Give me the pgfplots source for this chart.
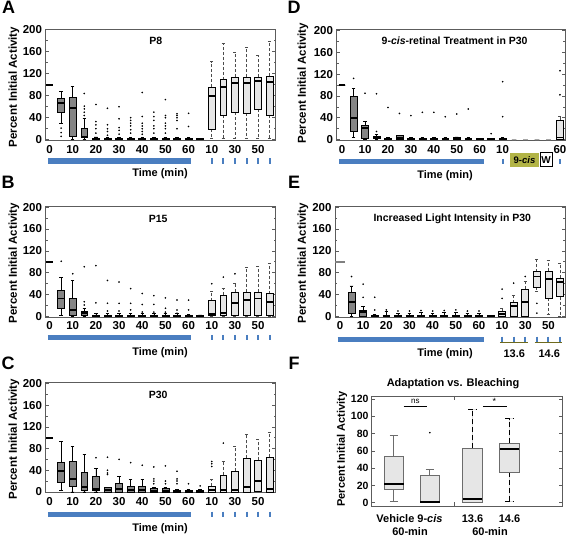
\documentclass[border=0pt]{standalone}
\usepackage{fontspec}
\setmainfont{Liberation Sans}
\usepackage{pgfplots}
\pgfplotsset{compat=1.18}
\usepgfplotslibrary{statistics}
\definecolor{dkfill}{HTML}{858585}
\definecolor{ltfill}{HTML}{E6E6E6}
\definecolor{bbar}{HTML}{4A7EC0}
\definecolor{olivec}{HTML}{B2B446}
\definecolor{olived}{HTML}{6E6A1E}
\definecolor{framec}{HTML}{5C5C5C}
\pgfplotsset{
  bp/.style args={#1/#2/#3/#4/#5/#6}{boxplot prepared={draw direction=y,draw position=#1,lower whisker=#2,lower quartile=#3,median=#4,upper quartile=#5,upper whisker=#6}},
  dk/.style={draw=black,fill=dkfill,line width=0.6pt,solid,boxplot/box extend=0.6,boxplot/whisker extend=0.3,
    boxplot/every median/.style={line width=1.8pt,black},boxplot/every whisker/.style={solid,black,line width=0.6pt}},
  lt/.style={draw=black,fill=ltfill,line width=0.7pt,solid,boxplot/box extend=0.6,boxplot/whisker extend=0.3,
    boxplot/every median/.style={line width=1.8pt,black},boxplot/every whisker/.style={dash pattern=on 3pt off 2pt,draw=gray!60!black,line width=0.8pt}},
  dd/.style={draw=black,fill=black,line width=0.6pt,boxplot/box extend=0.55,boxplot/every median/.style={line width=2pt,black}},
  gd/.style={draw=gray,fill=gray,line width=0.6pt,boxplot/box extend=0.85,boxplot/every median/.style={line width=1.6pt,gray}},
  gz/.style={draw=gray!70,fill=gray!70,line width=0.6pt,boxplot/box extend=0.4,boxplot/every median/.style={line width=1.4pt,gray!70}},
  out/.style={only marks,mark=*,mark size=0.6pt,black},
  fb/.style={draw=gray!85!black,fill=ltfill,line width=1pt,boxplot/box extend=0.53,boxplot/whisker extend=0.22,
    boxplot/every median/.style={line width=2.2pt,black}},
  panelbase/.style={
    scale only axis, clip=false,
    boxplot/draw direction=y,
    axis line style={draw=framec,line width=0.9pt},
    tick align=inside,
    tick style={draw=framec,line width=0.7pt},
    major tick length=3.5pt, minor tick length=2pt,
    xtick style={draw=none},
    /pgf/number format/assume math mode=true,
    yticklabel style={font=\fontsize{11.5}{12}\selectfont\bfseries},
    xticklabel style={font=\fontsize{11.5}{12}\selectfont\bfseries,yshift=-1pt},
  },
  tp/.style={panelbase,width=230pt,height=111pt,xmin=-0.35,xmax=19.5,ymin=-1.5,ymax=201.5,
    ytick={0,40,...,200},minor ytick={20,60,...,180},
    xtick={0,2,4,6,8,10,12,14,16,18},xticklabels={0,10,20,30,40,50,60,10,30,50}},
}
\tikzset{ttl/.style={font=\fontsize{10.5}{12}\selectfont\bfseries},
  ylab/.style={font=\fontsize{11.5}{13}\selectfont\bfseries,rotate=90},
  tlab/.style={font=\fontsize{11}{12}\selectfont\bfseries},
  plab/.style={font=\fontsize{18}{19}\selectfont\bfseries}}
\begin{document}
\begin{tikzpicture}
\path[use as bounding box] (0pt,0pt) rectangle (567pt,537pt);
% ---------------- A ----------------
\begin{axis}[tp,at={(45.5pt,396.5pt)},anchor=south west,height=111.5pt]
\addplot[dd,bp={0/100/100/100/100/100}] coordinates {};
\addplot[dk,bp={1/30/50/67/76/88}] coordinates {};
\addplot[dk,bp={2/1/6/58/77/97}] coordinates {};
\addplot[dk,bp={3/0/4/5/21/39}] coordinates {};
\addplot[dk,bp={4/0/0/1/3/5}] coordinates {};
\addplot[dk,bp={5/0/0/1/3/4}] coordinates {};
\addplot[dk,bp={6/0/0/1/3/4}] coordinates {};
\addplot[dk,bp={7/0/0/1/3/4}] coordinates {};
\addplot[dk,bp={8/0/0/1/3/4}] coordinates {};
\addplot[dk,bp={9/0/0/1/3/4}] coordinates {};
\addplot[dk,bp={10/0/0/1/3/4}] coordinates {};
\addplot[dk,bp={11/0/0/1/3/4}] coordinates {};
\addplot[dk,bp={12/0/0/1/3/4}] coordinates {};
\addplot[dk,bp={13/0/0/1/3/3}] coordinates {};
\addplot[lt,bp={14/2/19/79/96/142}] coordinates {};
\addplot[lt,bp={15/2/45/96/109/175}] coordinates {};
\addplot[lt,bp={16/2/50/103/114/158}] coordinates {};
\addplot[lt,bp={17/2/48/103/114/168}] coordinates {};
\addplot[lt,bp={18/2/55/107/114/153}] coordinates {};
\addplot[lt,bp={19/2/45/105/116/179}] coordinates {};
\addplot[out] coordinates {(1,21)(1,13)(1,6)
 (3,84)(3,61)(3,56)(3,50)(3,44)
 (4,64)(4,33)(4,27)(4,20)(4,12)
 (5,57)(5,27)(5,20)(5,15)(5,8)
 (6,60)(6,38)(6,22)(6,17)(6,10)
 (7,40)(7,35)(7,30)(7,25)(7,18)(7,12)
 (8,86)(8,42)(8,30)(8,25)(8,20)(8,15)(8,10)
 (9,50)(9,42)(9,35)(9,25)(9,20)(9,12)
 (10,73)(10,44)(10,40)(10,30)(10,25)(10,20)(10,12)
 (11,47)(11,44)(11,40)(11,35)(11,20)
 (12,48)(12,24)};
\node[ttl] at (rel axis cs:0.48,0.89) {P8};
\draw[bbar,line width=5.5pt] ({axis cs:-0.15,0}|-{rel axis cs:0,-0.185}) -- ({axis cs:12.2,0}|-{rel axis cs:0,-0.185});
\pgfplotsinvokeforeach{14,15,16,17,18,19}{\draw[bbar,line width=2pt] ({axis cs:#1,0}|-{rel axis cs:0,-0.16}) -- ({axis cs:#1,0}|-{rel axis cs:0,-0.21});}
\end{axis}
% ---------------- B ----------------
\begin{axis}[tp,at={(45.5pt,219.7pt)},anchor=south west]
\addplot[dd,bp={0/100/100/100/100/100}] coordinates {};
\addplot[dk,bp={1/2/15/33/47/72}] coordinates {};
\addplot[dk,bp={2/0/3/12/33/66}] coordinates {};
\addplot[dk,bp={3/0/3/6/9/15}] coordinates {};
\addplot[dk,bp={4/0/0/1/3/5}] coordinates {};
\addplot[dk,bp={5/0/0/1/3/5}] coordinates {};
\addplot[dk,bp={6/0/0/1/3/5}] coordinates {};
\addplot[dk,bp={7/0/0/1/3/5}] coordinates {};
\addplot[dk,bp={8/0/0/1/3/5}] coordinates {};
\addplot[dk,bp={9/0/0/1/3/5}] coordinates {};
\addplot[dk,bp={10/0/0/1/3/5}] coordinates {};
\addplot[dk,bp={11/0/0/1/3/5}] coordinates {};
\addplot[dk,bp={12/0/0/1/3/4}] coordinates {};
\addplot[dk,bp={13/0/0/1/3/3}] coordinates {};
\addplot[lt,bp={14/0/2/4/29/45}] coordinates {};
\addplot[lt,bp={15/0/2/6/39/52}] coordinates {};
\addplot[lt,bp={16/0/2/24/45/60}] coordinates {};
\addplot[lt,bp={17/0/2/30/45/90}] coordinates {};
\addplot[lt,bp={18/0/2/33/45/92}] coordinates {};
\addplot[lt,bp={19/0/2/27/42/97}] coordinates {};
\addplot[out] coordinates {(1,101)(2,78)(3,91)(3,27)(3,21)(4,93)(4,25)
 (5,66)(5,24)(5,10)(6,63)(6,24)(6,10)(7,51)(7,24)(7,12)(8,42)(8,22)(8,8)
 (9,38)(9,22)(9,8)(10,34)(10,15)(10,8)(11,30)(11,12)(11,6)(12,30)(12,12)
 (14,60)(15,72)(16,78)};
\node[ttl] at (rel axis cs:0.49,0.89) {P15};
\draw[bbar,line width=5.5pt] ({axis cs:-0.15,0}|-{rel axis cs:0,-0.183}) -- ({axis cs:12.2,0}|-{rel axis cs:0,-0.183});
\pgfplotsinvokeforeach{14,15,16,17,18,19}{\draw[bbar,line width=2pt] ({axis cs:#1,0}|-{rel axis cs:0,-0.158}) -- ({axis cs:#1,0}|-{rel axis cs:0,-0.208});}
\end{axis}
% ---------------- C ----------------
\begin{axis}[tp,at={(45.5pt,44.3pt)},anchor=south west,height=110pt]
\addplot[dd,bp={0/100/100/100/100/100}] coordinates {};
\addplot[dk,bp={1/3/17/38/54/93}] coordinates {};
\addplot[dk,bp={2/0/11/24/56/84}] coordinates {};
\addplot[dk,bp={3/0/3/9/37/69}] coordinates {};
\addplot[dk,bp={4/0/3/6/28/43}] coordinates {};
\addplot[dk,bp={5/0/0/4/8/8}] coordinates {};
\addplot[dk,bp={6/0/0/6/15/29}] coordinates {};
\addplot[dk,bp={7/0/0/4/10/23}] coordinates {};
\addplot[dk,bp={8/0/0/4/10/23}] coordinates {};
\addplot[dk,bp={9/0/0/2/6/8}] coordinates {};
\addplot[dk,bp={10/0/0/2/6/8}] coordinates {};
\addplot[dk,bp={11/0/0/1/3/5}] coordinates {};
\addplot[dk,bp={12/0/0/1/3/5}] coordinates {};
\addplot[dk,bp={13/0/0/1/3/4}] coordinates {};
\addplot[lt,bp={14/0/0/3/10/23}] coordinates {};
\addplot[lt,bp={15/0/0/4/31/56}] coordinates {};
\addplot[lt,bp={16/0/0/4/38/84}] coordinates {};
\addplot[lt,bp={17/0/0/9/62/106}] coordinates {};
\addplot[lt,bp={18/0/1/20/58/97}] coordinates {};
\addplot[lt,bp={19/0/0/6/64/110}] coordinates {};
\addplot[out] coordinates {(4,63)(5,64)(5,40)(5,35)(5,32)(6,60)(7,54)(8,49)
 (9,46)(9,24)(9,20)(9,15)(10,48)(10,20)(10,15)(11,38)(11,24)(11,20)(11,15)
 (12,15)(13,11)(14,56)(14,52)(14,47)(15,90)};
\node[ttl] at (rel axis cs:0.49,0.89) {P30};
\draw[bbar,line width=5.5pt] ({axis cs:-0.15,0}|-{rel axis cs:0,-0.196}) -- ({axis cs:12.2,0}|-{rel axis cs:0,-0.196});
\pgfplotsinvokeforeach{14,15,16,17,18,19}{\draw[bbar,line width=2pt] ({axis cs:#1,0}|-{rel axis cs:0,-0.171}) -- ({axis cs:#1,0}|-{rel axis cs:0,-0.221});}
\end{axis}
% ---------------- D ----------------
\begin{axis}[tp,at={(336.5pt,396.5pt)},anchor=south west,width=228.5pt,xmin=-0.49,xmax=19.44,
  xtick={0,2,4,6,8,10,12,14,19},xticklabels={0,10,20,30,40,50,60,10,60}]
\addplot[dd,bp={0/100/100/100/100/100}] coordinates {};
\addplot[dk,bp={1/4/16/39/80/94}] coordinates {};
\addplot[dk,bp={2/0/3/22/27/33}] coordinates {};
\addplot[dk,bp={3/0/3/5/7/10}] coordinates {};
\addplot[dk,bp={4/0/0/1/3/4}] coordinates {};
\addplot[dk,bp={5/0/0/3/8/8}] coordinates {};
\addplot[dk,bp={6/0/0/1/3/4}] coordinates {};
\addplot[dk,bp={7/0/0/1/3/4}] coordinates {};
\addplot[dk,bp={8/0/0/1/3/4}] coordinates {};
\addplot[dk,bp={9/0/0/1/3/4}] coordinates {};
\addplot[dk,bp={10/0/0/2/5/5}] coordinates {};
\addplot[dk,bp={11/0/0/1/3/4}] coordinates {};
\addplot[dk,bp={12/0/0/1/3/3}] coordinates {};
\addplot[dk,bp={13/0/0/1/3/3}] coordinates {};
\addplot[dk,bp={14/0/0/1/3/4}] coordinates {};
\addplot[gz,bp={15/0/0/0/0/0}] coordinates {};
\addplot[gz,bp={16/0/0/0/0/0}] coordinates {};
\addplot[gz,bp={17/0/0/0/0/0}] coordinates {};
\addplot[gz,bp={18/0/0/0/0/0}] coordinates {};
\addplot[lt,bp={19/0/0/4/36/42}] coordinates {};
\addplot[out] coordinates {(1,112)(2,85)(3,84)(3,15)(4,59)(5,48)(6,44)(7,50)(8,50)
 (9,42)(10,47)(11,56)(13,11)(14,106)(14,42)(19,126)(19,82)};
\node[ttl] at (rel axis cs:0.517,0.9) {9-\textit{cis}-retinal Treatment in P30};
\draw[bbar,line width=5.5pt] ({axis cs:-0.25,0}|-{rel axis cs:0,-0.19}) -- ({axis cs:12.4,0}|-{rel axis cs:0,-0.19});
\pgfplotsinvokeforeach{14,19}{\draw[bbar,line width=2pt] ({axis cs:#1,0}|-{rel axis cs:0,-0.165}) -- ({axis cs:#1,0}|-{rel axis cs:0,-0.215});}
\end{axis}
% ---------------- E ----------------
\begin{axis}[tp,at={(335pt,219.7pt)},anchor=south west,width=230pt,xmin=-0.43,xmax=19.43]
\addplot[gd,bp={0/100/100/100/100/100}] coordinates {};
\addplot[dk,bp={1/0/6/27/44/56}] coordinates {};
\addplot[dk,bp={2/0/0/8/12/19}] coordinates {};
\addplot[dk,bp={3/0/0/1/3/4}] coordinates {};
\addplot[dk,bp={4/0/0/1/3/9}] coordinates {};
\addplot[dk,bp={5/0/0/1/3/6}] coordinates {};
\addplot[dk,bp={6/0/0/1/3/6}] coordinates {};
\addplot[dk,bp={7/0/0/1/3/7}] coordinates {};
\addplot[dk,bp={8/0/0/1/3/6}] coordinates {};
\addplot[dk,bp={9/0/0/1/3/7}] coordinates {};
\addplot[dk,bp={10/0/0/1/3/8}] coordinates {};
\addplot[dk,bp={11/0/0/1/3/6}] coordinates {};
\addplot[dk,bp={12/0/0/1/3/6}] coordinates {};
\addplot[dk,bp={13/0/0/1/2/2}] coordinates {};
\addplot[lt,bp={14/0/0/4/10/15}] coordinates {};
\addplot[lt,bp={15/0/0/19/25/39}] coordinates {};
\addplot[lt,bp={16/0/0/27/50/64}] coordinates {};
\addplot[lt,bp={17/45/53/73/82/104}] coordinates {};
\addplot[lt,bp={18/3/33/68/83/103}] coordinates {};
\addplot[lt,bp={19/0/36/63/70/97}] coordinates {};
\addplot[out] coordinates {(1,73)(2,59)(2,35)(3,35)(3,12)(4,12)(5,10)(6,10)(7,11)(8,10)
 (9,11)(10,12)(11,10)(12,10)(14,50)(14,33)(15,61)(16,73)(17,24)(17,6)};
\node[ttl] at (rel axis cs:0.51,0.89) {Increased Light Intensity in P30};
\draw[bbar,line width=5.5pt] ({axis cs:-0.2,0}|-{rel axis cs:0,-0.198}) -- ({axis cs:12.4,0}|-{rel axis cs:0,-0.198});
\pgfplotsinvokeforeach{14,15,16,17,18,19}{\draw[bbar,line width=2pt] ({axis cs:#1,0}|-{rel axis cs:0,-0.175}) -- ({axis cs:#1,0}|-{rel axis cs:0,-0.225});}
\draw[olived,line width=1.5pt] ({axis cs:13.8,0}|-{rel axis cs:0,-0.228}) -- ({axis cs:16.2,0}|-{rel axis cs:0,-0.228});
\draw[olived,line width=1.5pt] ({axis cs:16.8,0}|-{rel axis cs:0,-0.228}) -- ({axis cs:19.2,0}|-{rel axis cs:0,-0.228});
\end{axis}
% ---------------- F ----------------
\begin{axis}[panelbase,at={(371pt,30.3pt)},anchor=south west,width=191pt,height=110.7pt,
  xmin=0,xmax=5.16,ymin=-4.6,ymax=123.5,ytick={0,20,...,120},xtick=\empty,
  yticklabel style={font=\fontsize{10.5}{11}\selectfont\bfseries,xshift=1pt}]
\addplot[fb,boxplot/every whisker/.style={solid,gray!85!black},bp={0.62/1/15/22/54/78}] coordinates {};
\addplot[fb,boxplot/every whisker/.style={solid,gray!85!black},bp={1.59/0/0/1/32/38}] coordinates {};
\addplot[fb,boxplot/every whisker/.style={dash pattern=on 5pt off 3pt,black},bp={2.74/0/0/4/63/108}] coordinates {};
\addplot[fb,boxplot/every whisker/.style={dash pattern=on 5pt off 3pt,black},bp={3.74/1/35/62/69/97}] coordinates {};
\addplot[out] coordinates {(1.59,81)};
\draw[black,line width=0.8pt] (axis cs:0.88,112) -- (axis cs:1.52,112);
\node[font=\fontsize{8}{9}\selectfont] at (axis cs:1.2,117) {ns};
\draw[black,line width=0.8pt] (axis cs:3.02,112) -- (axis cs:3.68,112);
\node[font=\fontsize{9}{9}\selectfont] at (axis cs:3.33,117) {*};
\draw[framec,line width=0.7pt] ({axis cs:2.24,0}|-{rel axis cs:0,1}) -- ({axis cs:2.24,0}|-{rel axis cs:0,0.96});
\draw[framec,line width=0.7pt] ({axis cs:2.24,0}|-{rel axis cs:0,0}) -- ({axis cs:2.24,0}|-{rel axis cs:0,0.04});
\end{axis}
% ---------------- labels ----------------
\node[plab] at (8.5pt,530pt) {A};
\node[plab] at (8pt,355pt) {B};
\node[plab] at (8pt,174pt) {C};
\node[plab] at (294pt,530pt) {D};
\node[plab] at (294pt,355pt) {E};
\node[plab] at (294pt,174pt) {F};
\node[ylab] at (14pt,450pt) {Percent Initial Activity};
\node[ylab] at (14pt,274pt) {Percent Initial Activity};
\node[ylab] at (14pt,98pt) {Percent Initial Activity};
\node[ylab] at (303pt,454pt) {Percent Initial Activity};
\node[ylab] at (303pt,274pt) {Percent Initial Activity};
\node[ylab,font=\fontsize{11}{12}\selectfont\bfseries] at (342pt,88pt) {Percent Initial Activity};
\node[tlab] at (160pt,363pt) {Time (min)};
\node[tlab] at (160pt,184.3pt) {Time (min)};
\node[tlab] at (160pt,8.7pt) {Time (min)};
\node[tlab] at (445pt,361pt) {Time (min)};
\node[tlab] at (445pt,183pt) {Time (min)};
\node[tlab] at (514.3pt,183pt) {13.6};
\node[tlab] at (549.3pt,183pt) {14.6};
\fill[olivec] (510pt,370pt) rectangle (539pt,384.3pt);
\node[font=\fontsize{9.5}{10}\selectfont\bfseries] at (524.5pt,377.2pt) {9-\textit{cis}};
\draw[black,line width=1pt,fill=white] (540.5pt,370.5pt) rectangle (552pt,384pt);
\node[font=\fontsize{10}{10}\selectfont\bfseries] at (546.2pt,377.2pt) {W};
\node[font=\fontsize{11}{12}\selectfont\bfseries] at (453pt,153.7pt) {Adaptation vs. Bleaching};
\node[tlab] at (409.5pt,18pt) {Vehicle 9-\textit{cis}};
\node[tlab] at (472.5pt,18pt) {13.6};
\node[tlab] at (509.5pt,18pt) {14.6};
\node[tlab] at (410pt,5.5pt) {60-min};
\node[tlab] at (490pt,5.5pt) {60-min};
\end{tikzpicture}
\end{document}
